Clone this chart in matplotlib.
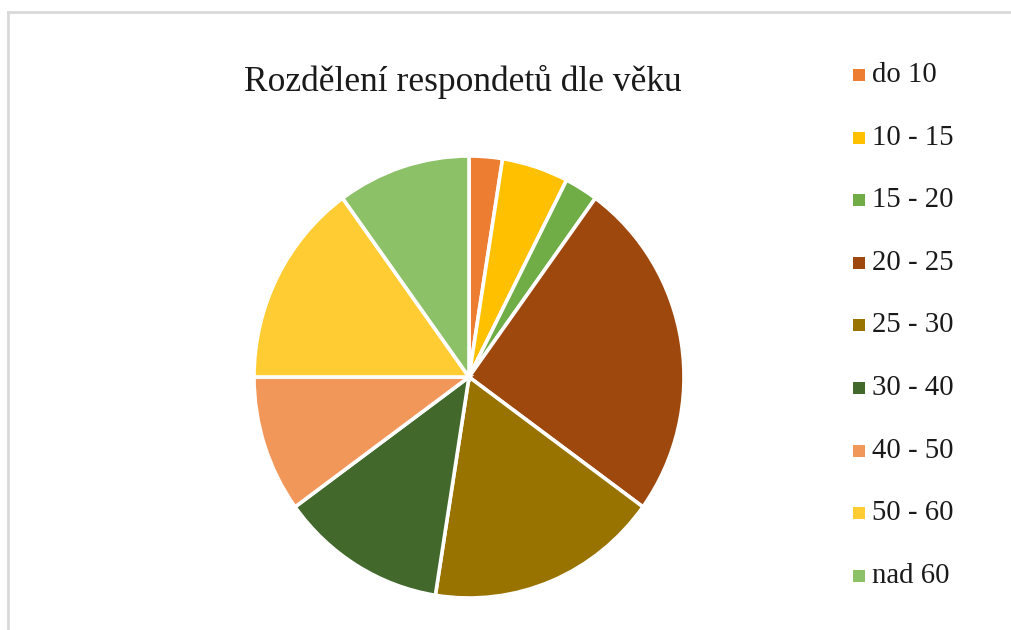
import matplotlib
matplotlib.use("Agg")
import matplotlib.pyplot as plt
from matplotlib.patches import Rectangle
from matplotlib.lines import Line2D

title = "Rozdělení respondetů dle věku"
categories = ["do 10", "10 - 15", "15 - 20", "20 - 25", "25 - 30",
              "30 - 40", "40 - 50", "50 - 60", "nad 60"]
counts = [1, 2, 1, 10, 7, 5, 4, 6, 4]
colors = ["#ED7D31", "#FFC000", "#70AD47", "#9E480E", "#997300",
          "#43682B", "#F1975A", "#FFCD33", "#8CC168"]

W, H = 1011, 630
fig = plt.figure(figsize=(W / 100, H / 100), dpi=100)
fig.patch.set_facecolor("white")

# chart area border (top and left visible)
fig.add_artist(Line2D([8 / W, 1.0], [1 - 12 / H, 1 - 12 / H], color="#D9D9D9", lw=2))
fig.add_artist(Line2D([8 / W, 8 / W], [1 - 12 / H, 0.0], color="#D9D9D9", lw=2))

cx, cy, rx, ry = 469, 377, 215, 221
ax = fig.add_axes([(cx - rx) / W, (H - cy - ry) / H, 2 * rx / W, 2 * ry / H])
wedges, _ = ax.pie(counts, colors=colors, startangle=90, counterclock=False,
                   wedgeprops=dict(edgecolor="white", linewidth=2.6))
for w in wedges:
    w.set_clip_on(False)
ax.set_xlim(-1, 1)
ax.set_ylim(-1, 1)
ax.set_aspect("auto")
ax.axis("off")

fig.text(463 / W, 1 - 82 / H, title, ha="center", va="center",
         family="Liberation Serif", fontsize=25.5, color="#1a1a1a")

y0, dy = 75, 62.6
for i, (lab, col) in enumerate(zip(categories, colors)):
    y = y0 + i * dy
    fig.add_artist(Rectangle((853 / W, 1 - (y + 6) / H), 12 / W, 12 / H,
                             facecolor=col, edgecolor="none"))
    fig.text(872 / W, 1 - y / H, lab, ha="left", va="center",
             family="Liberation Serif", fontsize=20.7, color="#1a1a1a")

fig.savefig("out.png", dpi=100, facecolor="white")
